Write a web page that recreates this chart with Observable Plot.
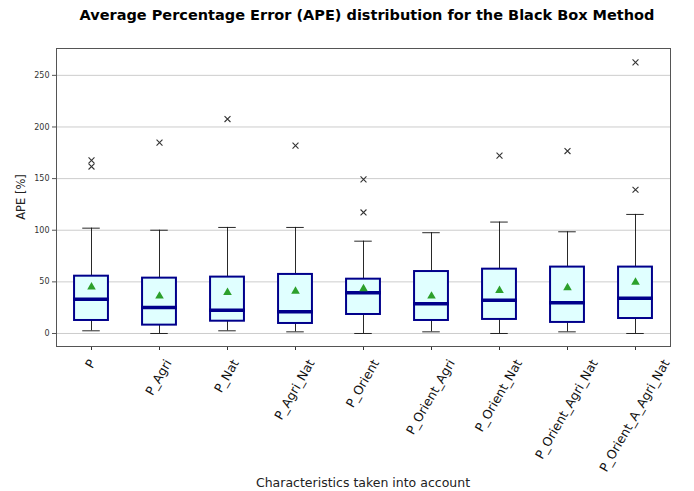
<!DOCTYPE html>
<html>
<head>
<meta charset="utf-8">
<script src="https://cdn.jsdelivr.net/npm/d3@7"></script>
<script src="https://cdn.jsdelivr.net/npm/@observablehq/plot@0.6"></script>
<style>
  body { margin: 0; background: #fff; }
  #chart { position: relative; width: 694px; height: 491px; }
</style>
</head>
<body>
<div id="chart"></div>
<script>
const categories = ["P", "P_Agri", "P_Nat", "P_Agri_Nat", "P_Orient", "P_Orient_Agri", "P_Orient_Nat", "P_Orient_Agri_Nat", "P_Orient_A_Agri_Nat"];
const whiskerLow  = [2.6, 0, 2.6, 1.6, 0, 1.6, 0, 1.6, 0];
const q1          = [12.6, 8.1, 11.9, 9.7, 18.4, 12.6, 13.6, 10.7, 14.5];
const medians     = [33.2, 25.2, 22.6, 21.0, 39.4, 28.7, 32.3, 29.7, 34.2];
const q3          = [55.5, 53.6, 54.6, 57.2, 52.6, 60.0, 62.3, 64.3, 64.3];
const whiskerHigh = [102, 100, 102.7, 102.7, 89.4, 97.6, 107.9, 98.5, 115.3];
const means       = [45, 36.2, 39.7, 41, 43.3, 36.2, 41.7, 44.3, 49.7];
const outlierCats = ["P", "P", "P_Agri", "P_Nat", "P_Agri_Nat", "P_Orient", "P_Orient", "P_Orient_Nat", "P_Orient_Agri_Nat", "P_Orient_A_Agri_Nat", "P_Orient_A_Agri_Nat"];
const outlierVals = [167.6, 161.7, 184.8, 207.7, 181.9, 149.2, 117.2, 172.2, 176.7, 262.6, 139.2];
const yTicks = [0, 50, 100, 150, 200, 250];

const stats = categories.map((c, i) => ({
  cat: c, lo: whiskerLow[i], q1: q1[i], med: medians[i], q3: q3[i], hi: whiskerHigh[i], mean: means[i]
}));
const outliers = outlierCats.map((c, i) => ({cat: c, v: outlierVals[i]}));

const W = 694, H = 491;
const mL = 56, mR = 24, mT = 48, mB = 145;
const bandW = (W - mL - mR) / categories.length;
const boxW = bandW * 0.5;
const capW = bandW * 0.26;

const plot = Plot.plot({
  width: W,
  height: H,
  marginLeft: mL,
  marginRight: mR,
  marginTop: mT,
  marginBottom: mB,
  style: {fontFamily: "DejaVu Sans", background: "#fff", overflow: "visible"},
  x: {domain: categories, padding: 0, label: null},
  y: {domain: [-12.6, 276], ticks: yTicks, label: null},
  marks: [
    Plot.gridY(yTicks, {stroke: "#b0b0b0", strokeOpacity: 0.8, strokeWidth: 0.8}),
    Plot.axisX({tickFormat: () => "", tickSize: 4, label: null, stroke: "#333"}),
    Plot.axisY({ticks: yTicks, fontSize: 8, tickSize: 4, tickPadding: 3, label: null, fill: "#333", stroke: "#555"}),
    // whiskers
    Plot.ruleX(stats, {x: "cat", y1: "lo", y2: "q1", stroke: "#111", strokeWidth: 0.9}),
    Plot.ruleX(stats, {x: "cat", y1: "q3", y2: "hi", stroke: "#111", strokeWidth: 0.9}),
    // caps
    Plot.tickY(stats, {x: "cat", y: "lo", stroke: "#111", strokeWidth: 0.9, insetLeft: (bandW - capW) / 2, insetRight: (bandW - capW) / 2}),
    Plot.tickY(stats, {x: "cat", y: "hi", stroke: "#111", strokeWidth: 0.9, insetLeft: (bandW - capW) / 2, insetRight: (bandW - capW) / 2}),
    // boxes
    Plot.barY(stats, {x: "cat", y1: "q1", y2: "q3", fill: "#e0ffff", stroke: "#00008b", strokeWidth: 2, insetLeft: (bandW - boxW) / 2, insetRight: (bandW - boxW) / 2}),
    // medians
    Plot.tickY(stats, {x: "cat", y: "med", stroke: "#00008b", strokeWidth: 3.5, insetLeft: (bandW - boxW) / 2 - 1, insetRight: (bandW - boxW) / 2 - 1}),
    // means
    Plot.dot(stats, {x: "cat", y: "mean", symbol: "triangle", r: 3.2, fill: "#2ca02c", stroke: "none"}),
    // outliers
    Plot.dot(outliers, {x: "cat", y: "v", symbol: "times", r: 2.8, stroke: "#333", strokeWidth: 1.1}),
    Plot.frame({stroke: "#555", strokeWidth: 1})
  ]
});

document.getElementById("chart").appendChild(plot);

const svg = d3.select(plot);
const xs = plot.scale("x");
const rot = 60;
const angle = rot * Math.PI / 180;
const fs = 12.5;
const labelTop = H - mB + 4 + 8;
const lg = svg.append("g").attr("font-family", "DejaVu Sans").attr("font-size", fs).attr("fill", "#111");
categories.forEach(c => {
  const cx = xs.apply(c) + xs.bandwidth / 2;
  const t = lg.append("text").attr("text-anchor", "end").text(c);
  const L = t.node().getComputedTextLength();
  // place baseline end so the rotated bounding box is centred on the tick
  const ex = cx + L * Math.cos(angle) / 2 + 0.3 * fs * Math.sin(angle);
  const ey = labelTop + 0.75 * fs * Math.cos(angle);
  t.attr("transform", `translate(${ex},${ey}) rotate(${-rot})`);
});

svg.append("text")
  .attr("x", 367).attr("y", 20)
  .attr("text-anchor", "middle")
  .attr("font-family", "DejaVu Sans")
  .attr("font-weight", "bold")
  .attr("font-size", 14.5)
  .attr("fill", "#000")
  .text("Average Percentage Error (APE) distribution for the Black Box Method");
svg.append("text")
  .attr("transform", "translate(25,197) rotate(-90)")
  .attr("text-anchor", "middle")
  .attr("font-family", "DejaVu Sans")
  .attr("font-size", 11.5)
  .attr("fill", "#222")
  .text("APE [%]");
svg.append("text")
  .attr("x", 363).attr("y", 487)
  .attr("text-anchor", "middle")
  .attr("font-family", "DejaVu Sans")
  .attr("font-size", 12.5)
  .attr("fill", "#222")
  .text("Characteristics taken into account");
</script>
</body>
</html>
